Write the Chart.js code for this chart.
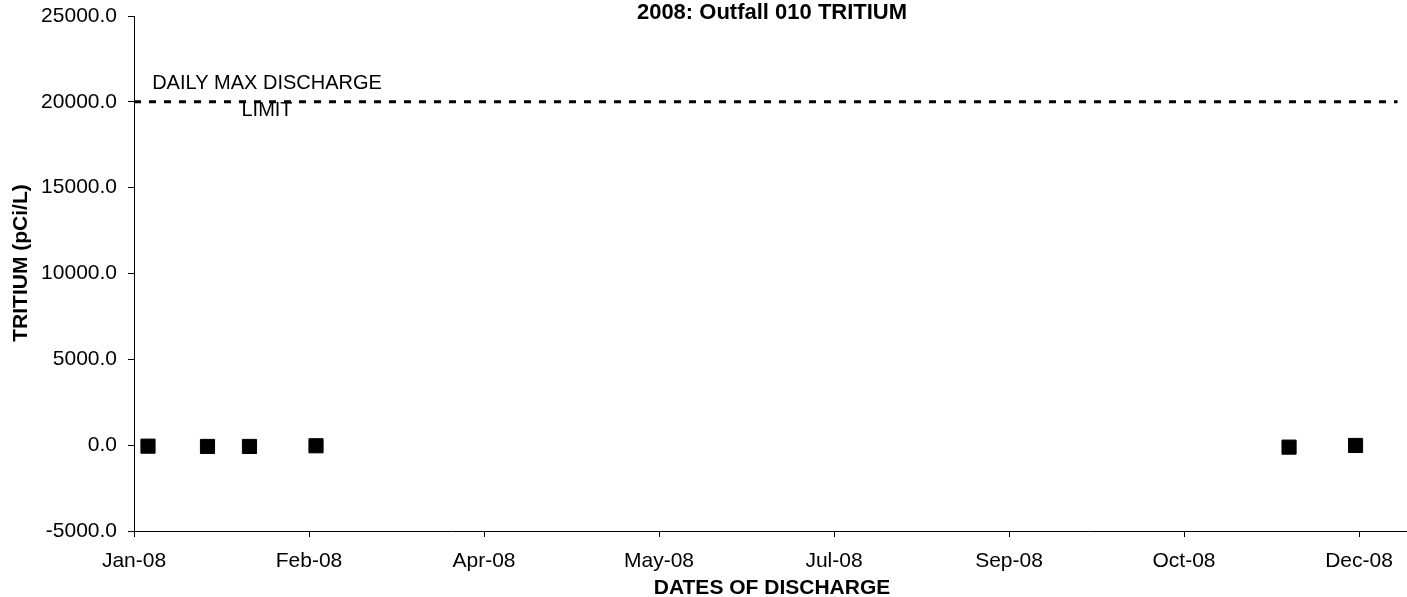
<!DOCTYPE html>
<html>
<head>
<meta charset="utf-8">
<title>2008: Outfall 010 TRITIUM</title>
<script src="https://cdn.jsdelivr.net/npm/chart.js@4/dist/chart.umd.min.js"></script>
<style>
  html, body { margin: 0; padding: 0; background: #fff; }
  canvas { display: block; }
</style>
</head>
<body>
<canvas id="chart" width="1407" height="597"></canvas>
<script>
// ----- data -----
const sampleDates = ["2008-01-05", "2008-01-22", "2008-02-03", "2008-02-22", "2008-11-26", "2008-12-15"];
const tritiumValues = [-58, -75, -75, -35, -115, -17];

const limitValue = 20000;
const limitLabel = ["DAILY MAX DISCHARGE", "LIMIT"];

// excel-style date axis: one tick every 50 days from 1 Jan 2008
const tickDays = [0, 50, 100, 150, 200, 250, 300, 350];
const tickLabels = ["Jan-08", "Feb-08", "Apr-08", "May-08", "Jul-08", "Sep-08", "Oct-08", "Dec-08"];
const yTicks = [-5000, 0, 5000, 10000, 15000, 20000, 25000];

const chartTitle = "2008: Outfall 010 TRITIUM";
const xTitle = "DATES OF DISCHARGE";
const yTitle = "TRITIUM (pCi/L)";

const FONT = "Arial, 'Liberation Sans', sans-serif";
const START = Date.UTC(2008, 0, 1);

// day offset from 1 Jan 2008
function dayOf(s) {
  return (Date.parse(s + "T00:00:00Z") - START) / 86400000;
}

const points = sampleDates.map((d, i) => ({ x: dayOf(d), y: tritiumValues[i] }));

// titles and the limit label, drawn on top of the chart
const textPlugin = {
  id: "texts",
  afterDraw(chart) {
    const ctx = chart.ctx;
    const xs = chart.scales.x;
    const ys = chart.scales.y;
    ctx.save();
    ctx.fillStyle = "#000";
    ctx.textAlign = "center";

    ctx.font = "bold 22px " + FONT;
    ctx.textBaseline = "alphabetic";
    ctx.fillText(chartTitle, 772, 19);

    ctx.font = "bold 21px " + FONT;
    ctx.textBaseline = "middle";
    ctx.fillText(xTitle, 772, 588);

    ctx.save();
    ctx.translate(21, 263);
    ctx.rotate(-Math.PI / 2);
    ctx.fillText(yTitle, 0, 0);
    ctx.restore();

    // limit annotation
    ctx.font = "20px " + FONT;
    const lx = xs.getPixelForValue(38);
    const ly = ys.getPixelForValue(limitValue);
    ctx.fillText(limitLabel[0], lx, ly - 18);
    ctx.fillText(limitLabel[1], lx, ly + 9);
    ctx.restore();
  }
};

new Chart(document.getElementById("chart"), {
  type: "scatter",
  data: {
    datasets: [
      {
        label: "limit",
        type: "line",
        data: [{ x: 0, y: limitValue }, { x: 361, y: limitValue }],
        borderColor: "#000",
        borderWidth: 3,
        borderDash: [7, 8],
        pointRadius: 0,
        fill: false
      },
      {
        label: "Tritium",
        data: points,
        pointStyle: "rect",
        pointRadius: 10,
        backgroundColor: "#000",
        borderColor: "#000",
        borderWidth: 1
      }
    ]
  },
  options: {
    responsive: false,
    devicePixelRatio: 1,
    animation: false,
    layout: { autoPadding: false, padding: { top: 16, right: 0, bottom: 0, left: 0 } },
    plugins: {
      legend: { display: false },
      tooltip: { enabled: false },
      title: { display: false }
    },
    scales: {
      x: {
        type: "linear",
        min: 0,
        max: 363.7,
        afterBuildTicks(scale) {
          scale.ticks = tickDays.map(v => ({ value: v }));
        },
        afterFit(scale) { scale.height = 66; },
        grid: { drawOnChartArea: false, drawTicks: true, tickLength: 6, color: "#000" },
        border: { color: "#000", width: 1 },
        ticks: {
          color: "#000",
          padding: 12,
          maxRotation: 0,
          autoSkip: false,
          font: { family: FONT, size: 21 },
          callback(value) {
            const i = tickDays.indexOf(value);
            return i >= 0 ? tickLabels[i] : "";
          }
        }
      },
      y: {
        min: -5000,
        max: 25000,
        afterBuildTicks(scale) {
          scale.ticks = yTicks.map(v => ({ value: v }));
        },
        afterFit(scale) {
          scale.width = 134;
          scale.paddingTop = 0;
          scale.paddingBottom = 0;
        },
        grid: { drawOnChartArea: false, drawTicks: true, tickLength: 6, color: "#000" },
        border: { color: "#000", width: 1 },
        ticks: {
          color: "#000",
          padding: 11,
          font: { family: FONT, size: 21 },
          callback(value) { return value.toFixed(1); }
        }
      }
    }
  },
  plugins: [textPlugin]
});
</script>
</body>
</html>
